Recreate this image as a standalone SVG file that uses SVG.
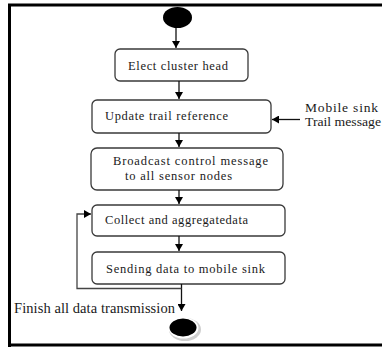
<svg xmlns="http://www.w3.org/2000/svg" width="382" height="347" viewBox="0 0 382 347">
<style>
.box{fill:#fff;stroke:#3a3a3a;stroke-width:1.3}
.t{font-family:"Liberation Serif","Times New Roman",serif;font-size:12.5px;fill:#1a1a1a}
.big{font-family:"Liberation Serif","Times New Roman",serif;font-size:14.5px;fill:#1a1a1a}
.side{font-family:"Liberation Serif","Times New Roman",serif;font-size:13.5px;fill:#1a1a1a}
.c{fill:none;stroke:#111;stroke-width:1.3}
.lp{fill:none;stroke:#444;stroke-width:1.3}
</style>
<defs>
<marker id="ah" markerWidth="8" markerHeight="8" refX="7" refY="4" orient="auto" markerUnits="userSpaceOnUse">
<path d="M0,0 L7,4 L0,8 Z" fill="#000"/>
</marker>
</defs>
<rect x="0" y="0" width="382" height="347" fill="#fff"/>
<path d="M9.5,347 V5 H382 M9.5,345 H382" fill="none" stroke="#000" stroke-width="3"/>
<g id="start"><ellipse cx="177.5" cy="17.5" rx="14.5" ry="10.5" fill="#000"/></g>
<g id="elect"><rect class="box" x="115" y="49" width="133" height="32" rx="5"/><text class="t" x="128" y="70" textLength="100" lengthAdjust="spacing">Elect cluster head</text></g>
<g id="update"><rect class="box" x="92" y="100" width="179" height="33" rx="5"/><text class="t" x="105" y="120" textLength="123" lengthAdjust="spacing">Update trail reference</text></g>
<g id="broadcast"><rect class="box" x="91" y="148" width="192" height="42" rx="6"/><text class="t" x="113" y="165" textLength="155" lengthAdjust="spacing">Broadcast control message</text><text class="t" x="125" y="180" textLength="107" lengthAdjust="spacing">to all sensor nodes</text></g>
<g id="collect"><rect class="box" x="92" y="205" width="193" height="31" rx="5"/><text class="t" x="105" y="224" textLength="143" lengthAdjust="spacing">Collect and aggregatedata</text></g>
<g id="sending"><rect class="box" x="92" y="252" width="193" height="32" rx="5"/><text class="t" x="106" y="273" textLength="159" lengthAdjust="spacing">Sending data to mobile sink</text></g>
<g id="end"><ellipse cx="185" cy="329.5" rx="16" ry="11.5" fill="#cfcfcf"/><ellipse cx="183.5" cy="328" rx="15" ry="10.5" fill="#fff"/><ellipse cx="183" cy="327.5" rx="13.5" ry="9" fill="#000"/></g>
<g id="mobile-sink-label"><text class="side" x="305" y="112" textLength="73" lengthAdjust="spacing">Mobile sink</text><text class="side" x="305" y="126" textLength="76" lengthAdjust="spacingAndGlyphs">Trail message</text></g>
<g id="finish-label"><text class="big" x="14" y="313" textLength="161" lengthAdjust="spacing">Finish all data transmission</text></g>
<g id="connectors">
<path class="c" d="M176,28 V48" marker-end="url(#ah)"/>
<path class="c" d="M179,81 V99" marker-end="url(#ah)"/>
<path class="c" d="M179,133 V147" marker-end="url(#ah)"/>
<path class="c" d="M179,190 V204" marker-end="url(#ah)"/>
<path class="c" d="M179,236 V251" marker-end="url(#ah)"/>
<path class="c" d="M181.5,284 V311" marker-end="url(#ah)"/>
<path class="c" d="M300,119.5 H272" marker-end="url(#ah)"/>
<path class="lp" d="M181.5,288.5 H77 V214 H91" marker-end="url(#ah)"/>
</g>
</svg>
